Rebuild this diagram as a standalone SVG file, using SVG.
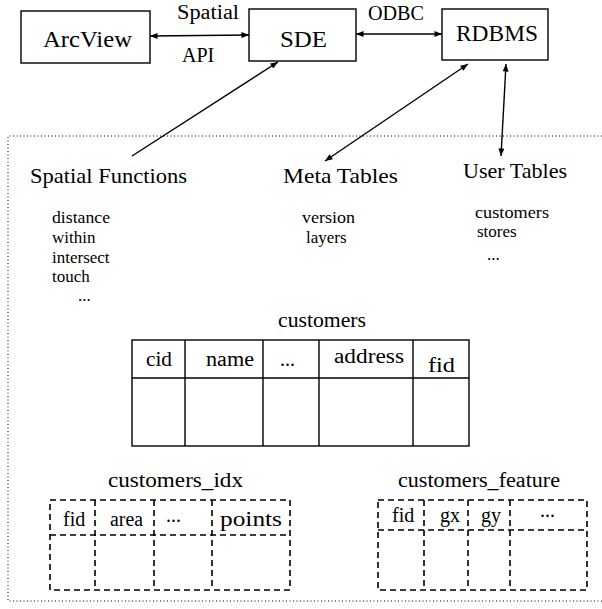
<svg xmlns="http://www.w3.org/2000/svg" width="602" height="609" viewBox="0 0 602 609">
<defs>
<marker id="ah" viewBox="0 0 10 8" refX="10" refY="4" markerWidth="9" markerHeight="6" orient="auto-start-reverse" markerUnits="userSpaceOnUse">
<path d="M0,0 L10,4 L0,8 Z" fill="#000"/>
</marker>
<style>
text{font-family:"Liberation Serif","Times New Roman",serif;fill:#000}
.big{font-size:23px}
.lab{font-size:22px}
.mid{font-size:20px}
.sm{font-size:17px}
.box{fill:#fff;stroke:#000;stroke-width:1.4}
.ln{stroke:#000;stroke-width:1.4;fill:none}
.dash{stroke:#000;stroke-width:1.6;fill:none;stroke-dasharray:6 4}
.dot{stroke:#000;stroke-width:1;fill:none;stroke-dasharray:1 2.5}
</style>
</defs>
<rect width="602" height="609" fill="#fff"/>
<path class="dot" d="M602,136 H8 V601 H602"/>
<g id="connectors">
<line class="ln" x1="150" y1="36" x2="249" y2="35" marker-start="url(#ah)" marker-end="url(#ah)"/>
<line class="ln" x1="356" y1="34" x2="442" y2="34" marker-start="url(#ah)" marker-end="url(#ah)"/>
<line class="ln" x1="132" y1="156" x2="278" y2="62" marker-end="url(#ah)"/>
<line class="ln" x1="468" y1="64" x2="325" y2="161" marker-start="url(#ah)" marker-end="url(#ah)"/>
<line class="ln" x1="506" y1="64" x2="501" y2="156" marker-start="url(#ah)" marker-end="url(#ah)"/>
<text class="mid" x="177" y="19" textLength="62" lengthAdjust="spacingAndGlyphs">Spatial</text>
<text class="mid" x="182" y="62">API</text>
<text class="mid" x="368" y="20" textLength="56" lengthAdjust="spacingAndGlyphs">ODBC</text>
</g>
<g id="arcview">
<rect class="box" x="21" y="11" width="129" height="52"/>
<text class="big" x="43" y="47" textLength="89" lengthAdjust="spacingAndGlyphs">ArcView</text>
</g>
<g id="sde">
<rect class="box" x="249" y="9" width="107" height="52"/>
<text class="big" x="280" y="47" textLength="47" lengthAdjust="spacingAndGlyphs">SDE</text>
</g>
<g id="rdbms">
<rect class="box" x="442" y="9" width="106" height="51"/>
<text class="big" x="456" y="41" textLength="82" lengthAdjust="spacingAndGlyphs">RDBMS</text>
</g>
<g id="spatial-functions">
<text class="lab" x="30" y="183" textLength="157" lengthAdjust="spacingAndGlyphs">Spatial Functions</text>
<text class="sm" x="52" y="223" textLength="58" lengthAdjust="spacingAndGlyphs">distance</text>
<text class="sm" x="52" y="243">within</text>
<text class="sm" x="52" y="263">intersect</text>
<text class="sm" x="52" y="282">touch</text>
<text class="sm" x="78" y="301">...</text>
</g>
<g id="meta-tables">
<text class="lab" x="283" y="183" textLength="115" lengthAdjust="spacingAndGlyphs">Meta Tables</text>
<text class="sm" x="302" y="223" textLength="53" lengthAdjust="spacingAndGlyphs">version</text>
<text class="sm" x="306" y="243">layers</text>
</g>
<g id="user-tables">
<text class="lab" x="463" y="178" textLength="104" lengthAdjust="spacingAndGlyphs">User Tables</text>
<text class="sm" x="475" y="218" textLength="74" lengthAdjust="spacingAndGlyphs">customers</text>
<text class="sm" x="477" y="237">stores</text>
<text class="sm" x="487" y="260">...</text>
</g>
<g id="customers">
<text class="mid" x="278" y="327" textLength="88" lengthAdjust="spacingAndGlyphs">customers</text>
<rect class="box" x="132" y="340" width="337" height="106" stroke-width="2"/>
<path class="ln" d="M132,378 H469 M185,340 V446 M263,340 V446 M319,340 V446 M413,340 V446"/>
<text class="mid" x="146" y="366" textLength="26" lengthAdjust="spacingAndGlyphs">cid</text>
<text class="mid" x="206" y="366" textLength="48" lengthAdjust="spacingAndGlyphs">name</text>
<text class="mid" x="280" y="366">...</text>
<text class="mid" x="334" y="363" textLength="70" lengthAdjust="spacingAndGlyphs">address</text>
<text class="mid" x="428" y="372" textLength="27" lengthAdjust="spacingAndGlyphs">fid</text>
</g>
<g id="customers-idx">
<text class="mid" x="108" y="487" textLength="135" lengthAdjust="spacingAndGlyphs">customers_idx</text>
<rect class="dash" x="50" y="500" width="240" height="90"/>
<path class="dash" d="M50,535 H290 M95,500 V590 M154,500 V590 M212,500 V590"/>
<text class="mid" x="63" y="526">fid</text>
<text class="mid" x="110" y="526" textLength="33" lengthAdjust="spacingAndGlyphs">area</text>
<text class="mid" x="166" y="522">...</text>
<text class="mid" x="220" y="526" textLength="62" lengthAdjust="spacingAndGlyphs">points</text>
</g>
<g id="customers-feature">
<text class="mid" x="398" y="487" textLength="162" lengthAdjust="spacingAndGlyphs">customers_feature</text>
<rect class="dash" x="378" y="500" width="209" height="90"/>
<path class="dash" d="M378,530 H587 M424,500 V590 M468,500 V590 M510,500 V590"/>
<text class="mid" x="392" y="522">fid</text>
<text class="mid" x="440" y="522">gx</text>
<text class="mid" x="481" y="522">gy</text>
<text class="mid" x="540" y="517">...</text>
</g>
</svg>
